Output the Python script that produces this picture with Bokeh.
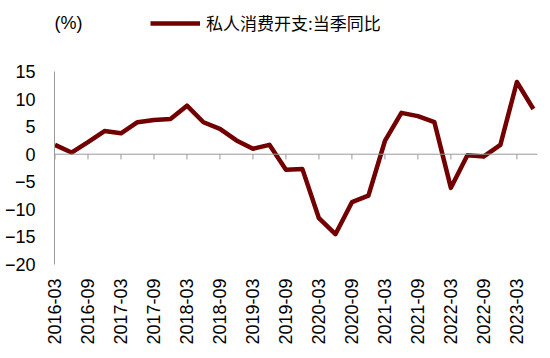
from bokeh.plotting import figure
from bokeh.layouts import column
from bokeh.models import Range1d, FixedTicker, Span, Legend, LegendItem, Label
from bokeh.embed import file_html
from bokeh.resources import INLINE

quarters = ["2016-03", "2016-06", "2016-09", "2016-12",
            "2017-03", "2017-06", "2017-09", "2017-12",
            "2018-03", "2018-06", "2018-09", "2018-12",
            "2019-03", "2019-06", "2019-09", "2019-12",
            "2020-03", "2020-06", "2020-09", "2020-12",
            "2021-03", "2021-06", "2021-09", "2021-12",
            "2022-03", "2022-06", "2022-09", "2022-12",
            "2023-03", "2023-06"]
values = [1.7, 0.3, 2.2, 4.2,
          3.8, 5.8, 6.2, 6.4,
          8.8, 5.8, 4.6, 2.5,
          1.0, 1.7, -2.8, -2.7,
          -11.6, -14.5, -8.7, -7.5,
          2.4, 7.5, 6.9, 5.8,
          -6.1, -0.2, -0.4, 1.7,
          13.1, 8.2]
y_ticks = [-20, -15, -10, -5, 0, 5, 10, 15]
series_name = "私人消费开支:当季同比"
unit_label = "(%)"

x = list(range(len(quarters)))
tick_idx = x[::2]
tick_labels = quarters[::2]

LINE_COLOR = "#720000"
AXIS_GRAY = "#9a9a9a"
FONT = "Liberation Sans"
LINE_W = 4.5

# ---------- header row (unit label + legend) ----------
header = figure(width=550, height=50, output_backend="svg", toolbar_location=None,
                x_range=Range1d(0, 1), y_range=Range1d(0, 1),
                x_axis_location=None, y_axis_location=None,
                min_border=0, min_border_left=54, min_border_right=13)
header.outline_line_color = None
header.xgrid.visible = False
header.ygrid.visible = False
key = header.line(x, values, line_color=LINE_COLOR, line_width=LINE_W,
                  line_join="round", visible=False)
legend = Legend(items=[LegendItem(label=series_name, renderers=[key])],
                location=(96, 15), orientation="horizontal",
                padding=0, margin=0, spacing=0,
                glyph_width=50, glyph_height=20, label_standoff=6,
                label_text_font="Noto Sans CJK SC", label_text_font_size="17px",
                label_text_color="black", inactive_fill_alpha=0,
                border_line_color=None, background_fill_alpha=0)
header.add_layout(legend)
header.add_layout(Label(x=0, y=28, x_units="screen", y_units="screen", text=unit_label,
                        text_font=FONT, text_font_size="18px", text_color="black",
                        text_baseline="middle", text_align="left"))

# ---------- main chart ----------
p = figure(width=550, height=308, output_backend="svg", toolbar_location=None,
           x_range=Range1d(-0.03, 29.25), y_range=Range1d(-20, 15),
           min_border_left=54, min_border_right=13, min_border_top=21,
           min_border_bottom=94)
p.outline_line_color = None
p.xgrid.visible = False
p.ygrid.visible = False
p.background_fill_color = "white"
p.border_fill_color = "white"

# y axis
p.yaxis.ticker = FixedTicker(ticks=y_ticks)
p.yaxis.axis_line_color = AXIS_GRAY
p.yaxis.major_tick_line_color = None
p.yaxis.minor_tick_line_color = None
p.yaxis.major_label_standoff = 13
p.yaxis.major_label_text_font = FONT
p.yaxis.major_label_text_font_size = "18px"
p.yaxis.major_label_text_color = "black"

# x axis (labels at the bottom)
p.xaxis.ticker = FixedTicker(ticks=tick_idx)
p.xaxis.major_label_overrides = {i: lab for i, lab in zip(tick_idx, tick_labels)}
p.xaxis.major_label_orientation = 3.14159265 / 2
p.xaxis.axis_line_color = None
p.xaxis.major_tick_line_color = None
p.xaxis.minor_tick_line_color = None
p.xaxis.major_label_standoff = 8
p.xaxis.major_label_text_font = FONT
p.xaxis.major_label_text_font_size = "18px"
p.xaxis.major_label_text_color = "black"

# zero line with ticks hanging below
p.add_layout(Span(location=0, dimension="width", line_color=AXIS_GRAY, line_width=1))
p.segment(x0=tick_idx, y0=[0] * len(tick_idx), x1=tick_idx, y1=[-0.95] * len(tick_idx),
          line_color=AXIS_GRAY, line_width=1)

p.line(x, values, line_color=LINE_COLOR, line_width=LINE_W, line_join="round")

layout = column(header, p, spacing=0)
open("out.html", "w").write(file_html(layout, INLINE))
